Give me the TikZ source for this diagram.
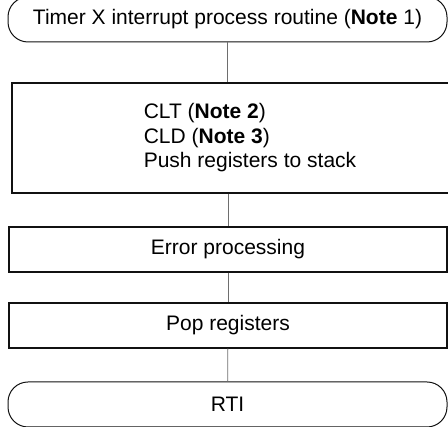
\documentclass[tikz,border=0pt]{standalone}
\usepackage{fontspec}
\setmainfont{Liberation Sans}
\usepackage{xcolor}
\usetikzlibrary{positioning,calc}
\definecolor{framegray}{HTML}{111111}
\definecolor{linkgray}{HTML}{6E6E6E}

\begin{document}
\begin{tikzpicture}[
  x=1pt, y=1pt,
  font=\fontsize{21}{24.5}\selectfont,
  box/.style={
    draw=framegray,
    line width=1.3pt,
    minimum width=438pt,
    minimum height=45pt,
    inner sep=0pt,
    align=center
  },
  terminal/.style={box,line width=1pt,rounded corners=20pt,minimum width=439pt},
  link/.style={draw=linkgray,line width=0.8pt}
]
  \useasboundingbox (0,0) rectangle (448,427);

  \node[terminal] (entry) at (227.5,407.5) {Timer X interrupt process routine (\textbf{Note} 1)};
  \node[box,minimum width=476pt,minimum height=110pt,align=left] (prep) at (250,289)
    {CLT (\textbf{Note 2})\\CLD (\textbf{Note 3})\\Push registers to stack};
  \node[box] (errproc) at (228,177.5) {Error processing};
  \node[box] (popregs) at (228,101.5) {Pop registers};
  \node[terminal] (rti) at (227.5,22.5) {RTI};

  \draw[link] (entry.south) -- (entry.south |- prep.north);
  \draw[link] (errproc.north |- prep.south) -- (errproc.north);
  \draw[link] (errproc) -- (popregs);
  \draw[link] (popregs) -- (rti);
\end{tikzpicture}
\end{document}
